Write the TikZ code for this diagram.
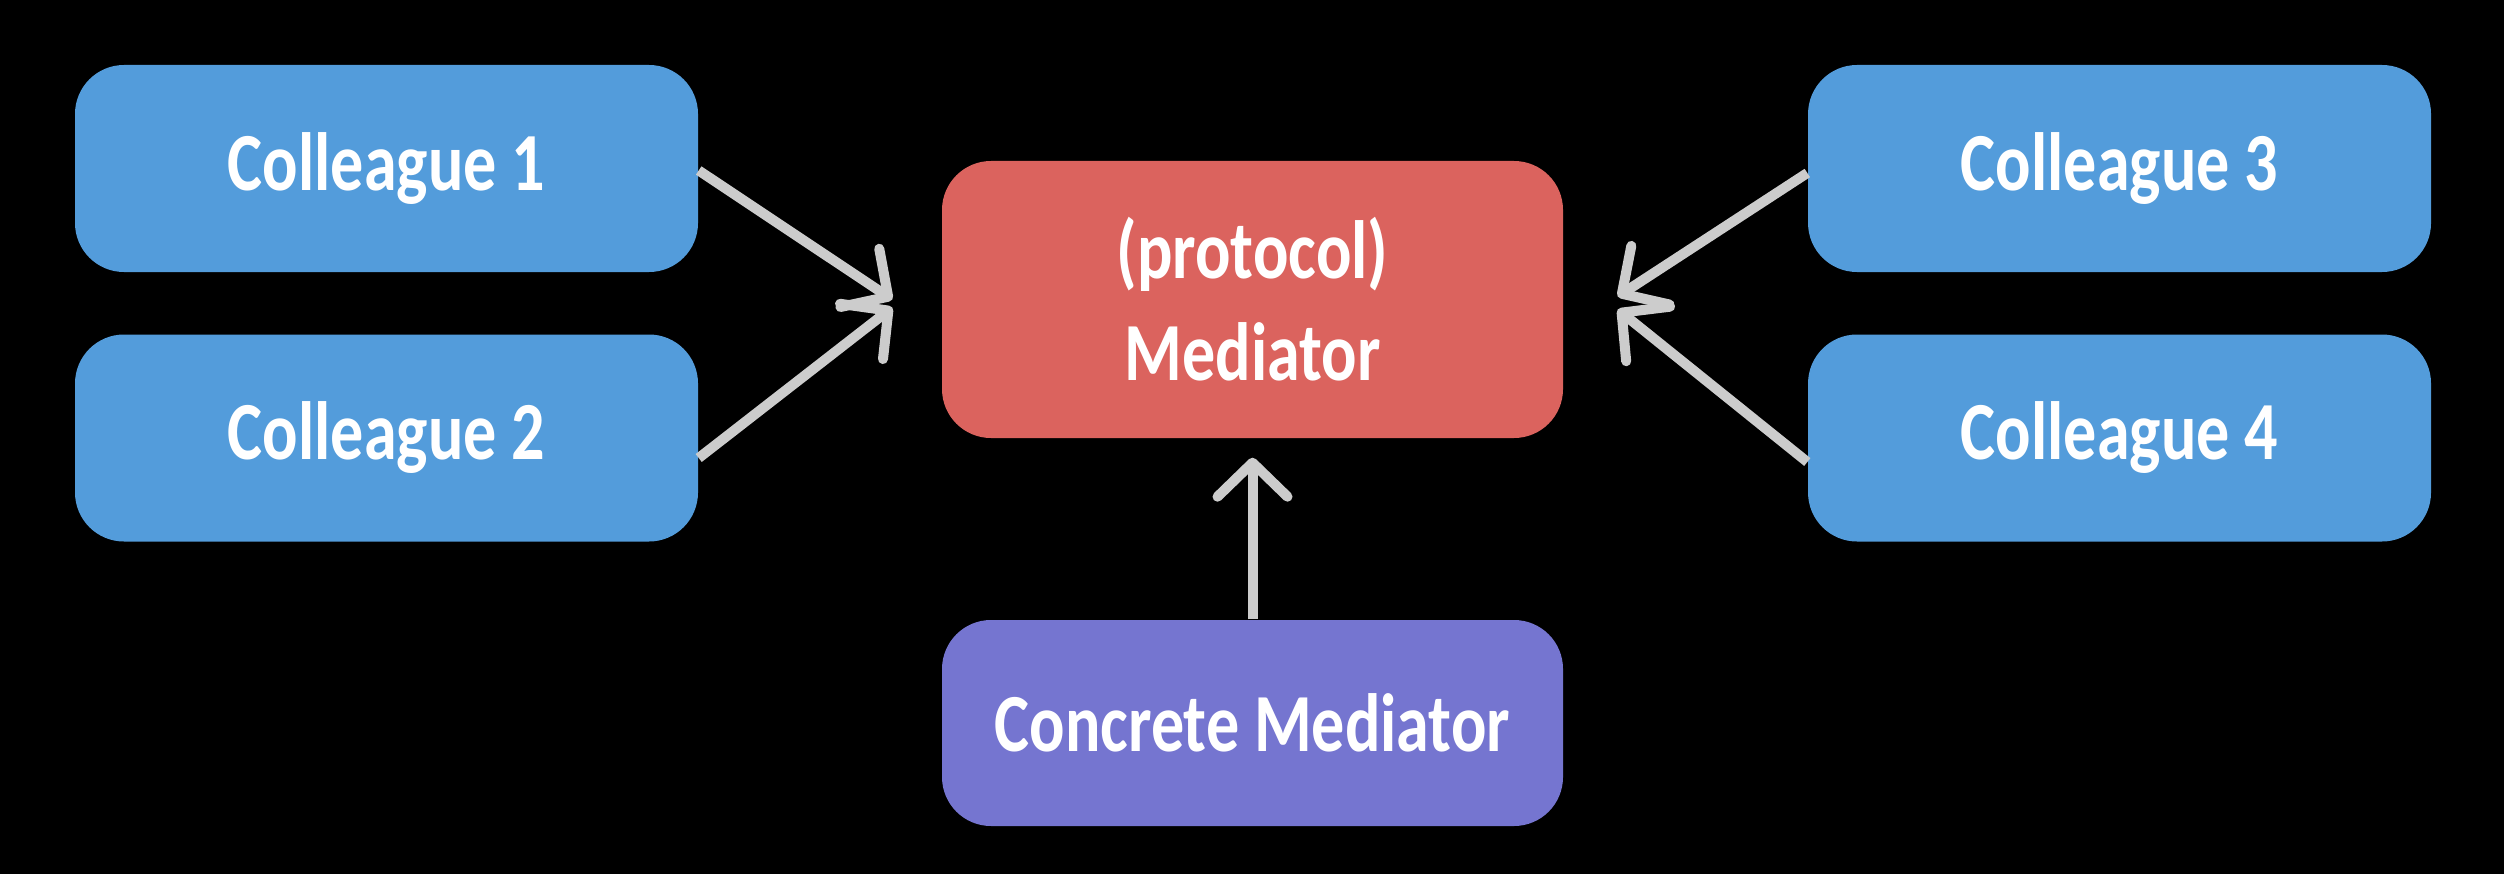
\documentclass[tikz,border=0pt]{standalone}
\usepackage{fontspec}
\setmainfont{Carlito}[FakeStretch=0.8]
\usetikzlibrary{arrows.meta,positioning}
\definecolor{colblue}{RGB}{83,156,219}
\definecolor{medred}{RGB}{219,99,94}
\definecolor{concpurple}{RGB}{117,117,208}
\definecolor{linkgray}{RGB}{204,204,204}

\begin{document}
\begin{tikzpicture}[
  box/.style={rounded corners=0.49cm, inner sep=0pt, align=center, text=white,
    font=\fontsize{23.5}{29}\selectfont\bfseries},
  colleague/.style={box, fill=colblue, minimum width=6.23cm, minimum height=2.07cm},
  link/.style={line width=2.85pt, linkgray,
    -{Straight Barb[length=3.4mm, width=7mm, round]}}
]
% Background
\fill[black] (0,0) rectangle (25.04,8.74);

% Colleagues
\node[colleague] (c1) at (3.865,7.055) {Colleague 1};
\node[colleague] (c2) at (3.865,4.36) {Colleague 2};
\node[colleague] (c3) at (21.195,7.055) {Colleague 3};
\node[colleague] (c4) at (21.195,4.36) {Colleague 4};

% Mediator
\node[box, fill=medred, minimum width=6.21cm, minimum height=2.77cm] (med) at (12.525,5.745) {(protocol)\\Mediator};
\node[box, fill=concpurple, minimum width=6.21cm, minimum height=2.06cm] (conc) at (12.525,1.51) {Concrete Mediator};

% Arrow ends
\coordinate[below=0.02cm of c1.east] (c1out);
\coordinate[below=0.2cm of c2.east] (c2out);
\coordinate[below=0.045cm of c3.west] (c3out);
\coordinate[below=0.24cm of c4.west] (c4out);
\coordinate[left=0.49cm of med.west] (medL1);
\coordinate[below=0.08cm of medL1] (medL2);
\coordinate[right=0.54cm of med.east, yshift=0.03cm] (medR1);
\coordinate[below=0.13cm of medR1] (medR2);
\coordinate[below=0.19cm of med.south] (medB);

% Links
\draw[link] (c1out) -- (medL1);
\draw[link] (c2out) -- (medL2);
\draw[link] (c3out) -- (medR1);
\draw[link] (c4out) -- (medR2);
\draw[link] (conc.north) -- (medB);
\end{tikzpicture}
\end{document}
